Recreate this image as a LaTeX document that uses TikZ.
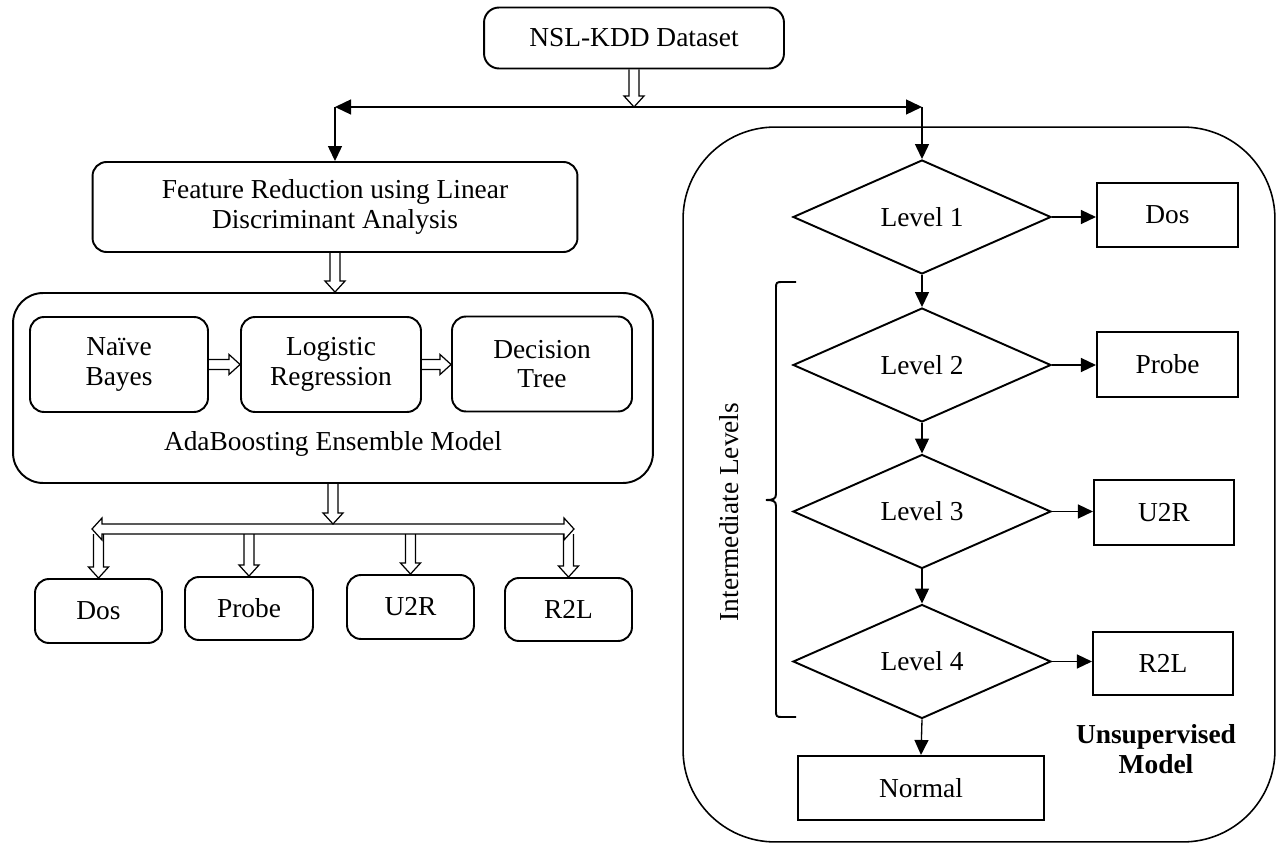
\documentclass[tikz,border=0pt]{standalone}
\usepackage{fontspec}
\setmainfont{Liberation Serif}
\usetikzlibrary{arrows.meta,shapes.geometric,calc}
\begin{document}
\begin{tikzpicture}[x=0.02cm,y=-0.02cm,
  font=\fontsize{15.6}{17}\selectfont,
  rbox/.style={draw, line width=1.1pt, rounded corners=0.28cm, align=center, inner sep=0pt},
  sbox/.style={draw, line width=1.2pt, inner sep=0pt},
  dia/.style={diamond, draw, line width=1.1pt, minimum width=5.16cm, minimum height=2.28cm, inner sep=0pt},
  arr/.style={line width=0.75pt, -{Triangle[length=0.3cm,width=0.28cm]}},
  arrboth/.style={line width=0.75pt, {Triangle[length=0.32cm,width=0.3cm]}-{Triangle[length=0.32cm,width=0.3cm]}},
  hollowd/.style={line width=0.7pt, to path={let \p1=(\tikztostart), \p2=(\tikztotarget) in
     (\x1-0.1cm,\y1) -- (\x1-0.1cm,\y2+0.22cm) -- (\x1-0.2cm,\y2+0.22cm) -- (\x1,\y2)
     -- (\x1+0.2cm,\y2+0.22cm) -- (\x1+0.1cm,\y2+0.22cm) -- (\x1+0.1cm,\y1)}},
  hollowr/.style={line width=0.7pt, to path={let \p1=(\tikztostart), \p2=(\tikztotarget) in
     (\x1,\y1-0.1cm) -- (\x2-0.22cm,\y1-0.1cm) -- (\x2-0.22cm,\y1-0.2cm) -- (\x2,\y1)
     -- (\x2-0.22cm,\y1+0.2cm) -- (\x2-0.22cm,\y1+0.1cm) -- (\x1,\y1+0.1cm)}},
  hollowboth/.style={line width=0.7pt, to path={let \p1=(\tikztostart), \p2=(\tikztotarget) in
     (\x1,\y1) -- (\x1+0.2cm,\y1+0.22cm) -- (\x1+0.2cm,\y1+0.1cm) -- (\x2-0.2cm,\y1+0.1cm)
     -- (\x2-0.2cm,\y1+0.22cm) -- (\x2,\y1) -- (\x2-0.2cm,\y1-0.22cm) -- (\x2-0.2cm,\y1-0.1cm)
     -- (\x1+0.2cm,\y1-0.1cm) -- (\x1+0.2cm,\y1-0.22cm) -- cycle}}
]
\useasboundingbox (0,0) rectangle (1278,844);

% ---------- left part ----------
\node[rbox, rounded corners=0.3cm, minimum width=6cm, minimum height=1.22cm] (nsl) at (634,38) {NSL-KDD Dataset};
\node[rbox, minimum width=9.7cm, minimum height=1.8cm] (feat) at (335,207) {Feature Reduction using Linear\\Discriminant Analysis};
\node[rbox, rounded corners=0.6cm, minimum width=12.8cm, minimum height=3.8cm] (ens) at (333,388) {};
\node (enslabel) at (333,444) {AdaBoosting Ensemble Model};
\node[rbox, minimum width=3.56cm, minimum height=1.9cm] (nb) at (119,364.5) {Naïve\\Bayes};
\node[rbox, minimum width=3.6cm, minimum height=1.9cm] (lr) at (331,364.5) {Logistic\\Regression};
\node[rbox, minimum width=3.6cm, minimum height=1.9cm] (dt) at (542,364) {Decision\\Tree};

\node[rbox, minimum width=2.54cm, minimum height=1.28cm] (dos1) at (98.5,611) {Dos};
\node[rbox, minimum width=2.56cm, minimum height=1.26cm] (probe1) at (249,608.5) {Probe};
\node[rbox, minimum width=2.54cm, minimum height=1.28cm] (u2r1) at (410.5,607) {U2R};
\node[rbox, minimum width=2.54cm, minimum height=1.26cm] (r2l1) at (568.5,609.5) {R2L};

% ---------- right part ----------
\node[draw, line width=0.9pt, rounded corners=1.84cm, minimum width=11.84cm, minimum height=14.3cm, inner sep=0pt] (unsup) at (979,484.5) {};
\node[dia] (L1) at (922,217) {Level 1};
\node[dia] (L2) at (922,365) {Level 2};
\node[dia] (L3) at (922,511.5) {Level 3};
\node[dia] (L4) at (922,661.5) {Level 4};
\node[sbox, minimum width=2.82cm, minimum height=1.28cm] (o1) at (1167.5,215) {Dos};
\node[sbox, minimum width=2.82cm, minimum height=1.3cm] (o2) at (1167.5,364.5) {Probe};
\node[sbox, minimum width=2.8cm, minimum height=1.3cm] (o3) at (1164,512.5) {U2R};
\node[sbox, minimum width=2.8cm, minimum height=1.26cm] (o4) at (1163,663.5) {R2L};
\node[sbox, minimum width=4.92cm, minimum height=1.28cm] (normal) at (921,788) {Normal};
\node[font=\bfseries\fontsize{15.6}{17}\selectfont, align=center] (um) at (1156,749) {Unsupervised\\Model};
\node[rotate=90] (il) at (729,512) {Intermediate Levels};

% bracket
\draw[line width=1.1pt] (796,282) -- (781,282) .. controls (777,282) and (776,283) .. (776,287)
  -- (776,494) .. controls (776,499) and (773,500) .. (766,500)
  .. controls (773,500) and (776,501) .. (776,506)
  -- (776,712) .. controls (776,716) and (777,717) .. (781,717) -- (796,717);

% ---------- connectors ----------
\coordinate (jm) at (634,107);
\coordinate (jl) at (feat.north |- jm);
\coordinate (jr) at (L1.north |- jm);
\draw[hollowd] (nsl.south) to (nsl.south |- jm);
\draw[arrboth] (jl) -- (jr);
\draw[arr] (jl) -- (feat.north);
\draw[arr] (jr) -- (L1.north);

\draw[hollowd] (feat.south) to (feat.south |- ens.north);
\draw[hollowr] (nb.east) to (lr.west);
\draw[hollowr] (lr.east) to (dt.west);

\coordinate (barL) at (92,529);
\coordinate (barR) at (574,529);
\coordinate (barT) at (333,524);
\coordinate (barB) at (333,534);
\draw[hollowboth] (barL) to (barR);
\draw[hollowd] (ens.south) to (ens.south |- barT);
\draw[hollowd] (dos1.north |- barB) to (dos1.north);
\draw[hollowd] (probe1.north |- barB) to (probe1.north);
\draw[hollowd] (u2r1.north |- barB) to (u2r1.north);
\draw[hollowd] (r2l1.north |- barB) to (r2l1.north);

\draw[arr] (L1.east) -- (L1.east -| o1.west);
\draw[arr] (L2.east) -- (L2.east -| o2.west);
\draw[arr] (L3.east) -- (L3.east -| o3.west);
\draw[arr] (L4.east) -- (L4.east -| o4.west);
\draw[arr] (L1.south) -- (L2.north);
\draw[arr] (L2.south) -- (L3.north);
\draw[arr] (L3.south) -- (L4.north);
\draw[arr] (L4.south) -- (normal.north);
\end{tikzpicture}
\end{document}
